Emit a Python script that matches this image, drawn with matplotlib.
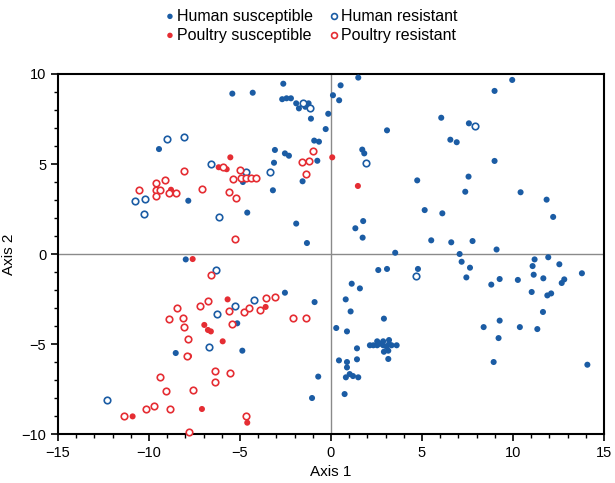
import matplotlib
matplotlib.use("Agg")
import matplotlib.pyplot as plt
from matplotlib.ticker import MultipleLocator

plt.rcParams['font.family'] = ['Liberation Sans', 'DejaVu Sans']

# ---- data ----
hs_x = [-9.45, -7.84, -7.98, -2.62, -5.42, -4.30, -2.68, -2.44, -2.2, -1.91, -1.76, -1.41, -1.23, -1.1,
        -0.15, -0.29, -0.92, -0.66, 0.11, 0.45, -3.08, -2.53, -2.31, -0.75, -1.56, -3.13, -3.19, -4.6,
        -1.91, -1.32, -4.84,
        1.5, 0.53, 3.08, 1.72, 1.83, 6.06, 7.58, 6.56, 6.91, 4.74, 7.56, 7.38, 5.15, 6.12, 1.77, 1.34,
        1.74, 5.51, 6.61, 3.53, 7.07, 9.96, 8.99, 8.99, 10.42, 11.85, 12.21, 7.78, 9.1, 11.19, 11.94,
        -8.53, -2.53, -0.9, -5.15, -4.87, -0.7, -1.04,
        0.29, 0.44, 2.6, 3.08, 4.78, 7.18, 7.44, 7.64, 1.14, 1.59, 0.81, 1.08, 2.91, 0.88, 1.43,
        2.14, 2.33, 2.54, 2.54, 2.69, 2.87, 2.87, 3.06, 3.19, 3.19, 3.33, 3.61, 2.91, 3.15, 3.15,
        1.43, 0.88, 0.88, 1.03, 1.21, 1.5, 0.82, 0.75,
        11.08, 12.55, 11.14, 11.67, 13.79, 12.82, 12.68, 8.81, 9.27, 10.27, 11.03, 11.89, 12.1,
        11.65, 9.27, 8.39, 10.38, 11.34, 9.21, 8.94, 14.09]
hs_y = [5.83, 2.96, -0.3, 9.46, 8.91, 8.96, 8.6, 8.65, 8.65, 8.37, 8.09, 8.18, 8.37, 7.52,
        7.79, 6.94, 6.3, 6.24, 8.82, 8.54, 5.78, 5.59, 5.46, 5.18, 4.04, 5.07, 3.54, 2.3,
        1.69, 0.61, 4.0,
        9.8, 9.37, 6.87, 5.8, 5.59, 7.57, 7.26, 6.35, 6.21, 4.09, 4.3, 3.46, 2.44, 2.26, 1.83, 1.43,
        0.91, 0.76, 0.65, 0.07, 0.0, 9.67, 9.06, 5.17, 3.43, 3.02, 2.06, 0.72, 0.25, -0.3, -0.18,
        -5.5, -2.15, -2.67, -3.85, -5.37, -6.81, -8.0,
        -4.11, -5.91, -0.89, -0.83, -0.83, -0.43, -1.3, -0.76, -1.65, -1.91, -2.52, -3.19, -3.59, -4.3, -5.24,
        -5.07, -5.07, -5.07, -4.85, -4.98, -4.85, -5.07, -5.15, -4.78, -5.0, -5.07, -5.07, -5.43, -5.37, -5.83,
        -5.85, -6.0, -6.3, -6.67, -6.78, -6.85, -6.85, -7.78,
        -0.67, -0.57, -1.15, -1.35, -1.07, -1.41, -1.61, -1.7, -1.39, -1.44, -2.11, -2.3, -2.19,
        -3.22, -3.7, -4.06, -4.06, -4.17, -4.67, -6.0, -6.15]

hr_x = [-9.03, -8.06, -10.77, -10.2, -10.29, -1.56, -1.17, -3.35, -6.59, -4.65, -6.14, 1.91, 7.9,
        -12.32, -6.34, -4.25, -5.26, -6.28, -6.68, 4.69]
hr_y = [6.39, 6.48, 2.96, 3.07, 2.2, 8.37, 8.13, 4.56, 5.0, 4.54, 2.06, 5.06, 7.13,
        -8.11, -0.89, -2.57, -2.87, -3.33, -5.18, -1.22]

ps_x = [-8.79, -8.75, -7.6, -5.53, -6.17, -5.73, 0.07, 1.48, -7.8, -10.9, -5.68, -3.59, -6.96,
        -6.76, -6.6, -5.95, -7.09, -4.6]
ps_y = [3.57, 3.43, -0.28, 5.37, 4.82, 4.71, 5.37, 3.78, -5.67, -9.02, -2.52, -2.94, -3.94,
        -4.22, -4.3, -4.85, -8.61, -9.37]

pr_x = [-8.08, -9.12, -9.62, -10.53, -9.63, -9.4, -8.52, -8.88, -9.62, -1.01, -1.58, -1.21, -1.37,
        -5.92, -4.98, -5.37, -4.93, -4.65, -4.40, -4.14, -7.1, -5.59, -5.22, -5.26,
        -8.48, -8.88, -8.13, -8.08, -7.84, -7.93, -9.4, -9.08, -9.73, -10.15, -8.86, -11.36, -7.8,
        -6.59, -3.08, -3.59, -6.76, -7.2, -5.59, -4.78, -4.51, -3.9, -2.07, -1.37, -5.42, -6.39,
        -5.53, -6.39, -7.57, -4.65]
pr_y = [4.59, 4.11, 3.94, 3.54, 3.54, 3.54, 3.37, 3.41, 3.22, 5.74, 5.11, 5.18, 4.46,
        4.82, 4.67, 4.15, 4.24, 4.24, 4.24, 4.24, 3.59, 3.46, 3.13, 0.81,
        -2.98, -3.63, -3.54, -4.06, -4.74, -5.65, -6.81, -7.59, -8.44, -8.61, -8.61, -8.98, -9.89,
        -1.15, -2.37, -2.46, -2.61, -2.87, -3.19, -3.24, -2.98, -3.13, -3.54, -3.54, -3.89, -6.5,
        -6.63, -7.13, -7.54, -9.0]

labels = ["Human susceptible", "Poultry susceptible", "Human resistant", "Poultry resistant"]

BLUE = "#1b5ca4"
RED = "#e52d33"

fig = plt.figure(figsize=(6.15, 4.83), dpi=100)
ax = fig.add_axes([0.0943, 0.1014, 0.8877, 0.7454])

ax.axhline(0, color="#8a8a8a", lw=1.0, zorder=1)
ax.axvline(0, color="#8a8a8a", lw=1.0, zorder=1)

h1 = ax.scatter(hs_x, hs_y, s=19, color=BLUE, edgecolors='none', zorder=3, clip_on=False)
h3 = ax.scatter(hr_x, hr_y, s=22, facecolors='white', edgecolors=BLUE, linewidths=1.2, zorder=3, clip_on=False)
h2 = ax.scatter(ps_x, ps_y, s=19, color=RED, edgecolors='none', zorder=3, clip_on=False)
h4 = ax.scatter(pr_x, pr_y, s=22, facecolors='white', edgecolors=RED, linewidths=1.2, zorder=3, clip_on=False)

ax.set_xlim(-15, 15)
ax.set_ylim(-10, 10)
ax.xaxis.set_major_locator(MultipleLocator(5))
ax.yaxis.set_major_locator(MultipleLocator(5))
ax.xaxis.set_minor_locator(MultipleLocator(1))
ax.yaxis.set_minor_locator(MultipleLocator(1))
ax.tick_params(which='major', direction='out', length=5, width=1.2, labelsize=10.5)
ax.tick_params(which='minor', direction='out', length=3, width=1.0)
for sp in ax.spines.values():
    sp.set_linewidth(1.5)

ax.set_xlabel("Axis 1", fontsize=11, labelpad=4)
ax.set_ylabel("Axis 2", fontsize=11, labelpad=4)

fig.legend([h1, h2, h3, h4], labels, loc='upper center', bbox_to_anchor=(0.505, 1.012),
           ncol=2, frameon=False, fontsize=11.5, handletextpad=0.05, columnspacing=0.9,
           labelspacing=0.25, markerscale=0.9, handlelength=0.8)

fig.savefig("out.png", dpi=100)
